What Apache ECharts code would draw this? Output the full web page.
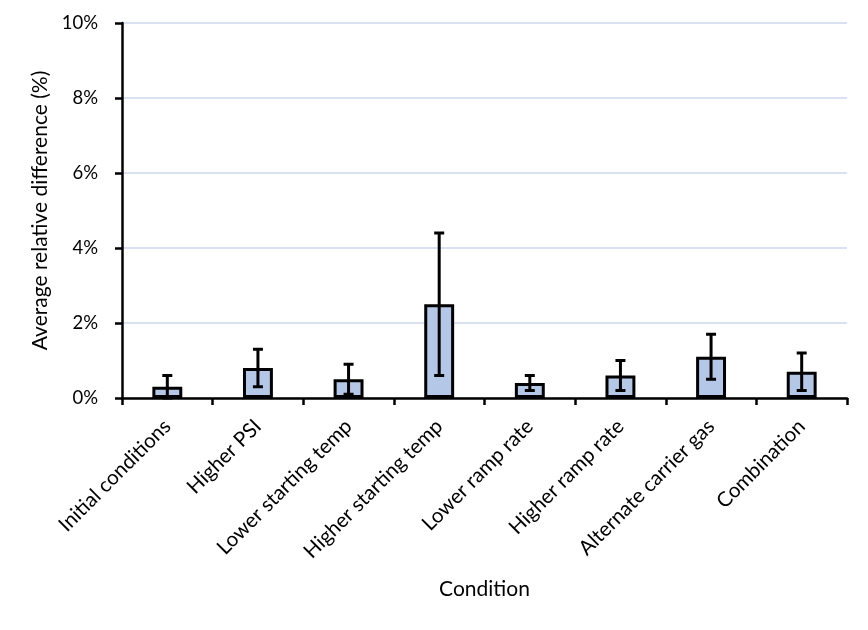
<!DOCTYPE html>
<html><head><meta charset="utf-8">
<script src="https://cdn.jsdelivr.net/npm/echarts@6/dist/echarts.min.js"></script>
<style>html,body{margin:0;padding:0;background:#fff}#c{width:868px;height:630px}</style>
</head><body><div id="c"></div>
<script>
var categories = ['Initial conditions','Higher PSI','Lower starting temp','Higher starting temp','Lower ramp rate','Higher ramp rate','Alternate carrier gas','Combination'];
var means = [0.3, 0.8, 0.5, 2.5, 0.4, 0.6, 1.1, 0.7];
var errLow = [0.0, 0.3, 0.1, 0.6, 0.2, 0.2, 0.5, 0.2];
var errHigh = [0.6, 1.3, 0.9, 4.4, 0.6, 1.0, 1.7, 1.2];
var yTicks = [0, 2, 4, 6, 8, 10];

var FONT = 'Lato';
var chart = echarts.init(document.getElementById('c'));
var errData = categories.map(function(c,i){return [i, errLow[i], errHigh[i]];});
chart.setOption({
  animation:false,
  grid:{left:122, right:21, top:23, bottom:232},
  xAxis:{
    type:'category', data:categories,
    name:'Condition', nameLocation:'middle', nameGap:181,
    nameTextStyle:{fontFamily:FONT, fontSize:21, color:'#000'},
    axisLine:{lineStyle:{color:'#000', width:2.5}},
    axisTick:{show:true, alignWithLabel:false, length:7, lineStyle:{color:'#000', width:2.5}},
    axisLabel:{rotate:45, fontFamily:FONT, fontSize:20.5, color:'#000', margin:25, interval:0}
  },
  yAxis:{
    type:'value', min:0, max:10, interval:2,
    name:'Average relative difference (%)', nameLocation:'middle', nameGap:70,
    nameTextStyle:{fontFamily:FONT, fontSize:21, color:'#000'},
    axisLine:{show:true, lineStyle:{color:'#000', width:2.5}},
    axisTick:{show:true, length:7, lineStyle:{color:'#000', width:2.5}},
    axisLabel:{fontFamily:FONT, fontSize:18.5, color:'#000', margin:24,
      formatter:function(v){return yTicks.indexOf(v)>=0 ? v+'%' : '';}},
    splitLine:{lineStyle:{color:'#D9E1F2', width:2}}
  },
  series:[
    {type:'bar', data:means, barWidth:'33%',
     itemStyle:{color:'#B4C7E7', borderColor:'#000', borderWidth:3}},
    {type:'custom', data:errData, z:10,
     renderItem:function(params, api){
       var x = api.value(0);
       var lo = api.coord([x, api.value(1)]);
       var hi = api.coord([x, api.value(2)]);
       var hw = 5;
       var st = {stroke:'#000', lineWidth:3};
       return {type:'group', children:[
         {type:'line', shape:{x1:hi[0], y1:hi[1], x2:lo[0], y2:lo[1]}, style:st},
         {type:'line', shape:{x1:hi[0]-hw, y1:hi[1], x2:hi[0]+hw, y2:hi[1]}, style:st},
         {type:'line', shape:{x1:lo[0]-hw, y1:lo[1], x2:lo[0]+hw, y2:lo[1]}, style:st}
       ]};
     }}
  ]
});
</script></body></html>
